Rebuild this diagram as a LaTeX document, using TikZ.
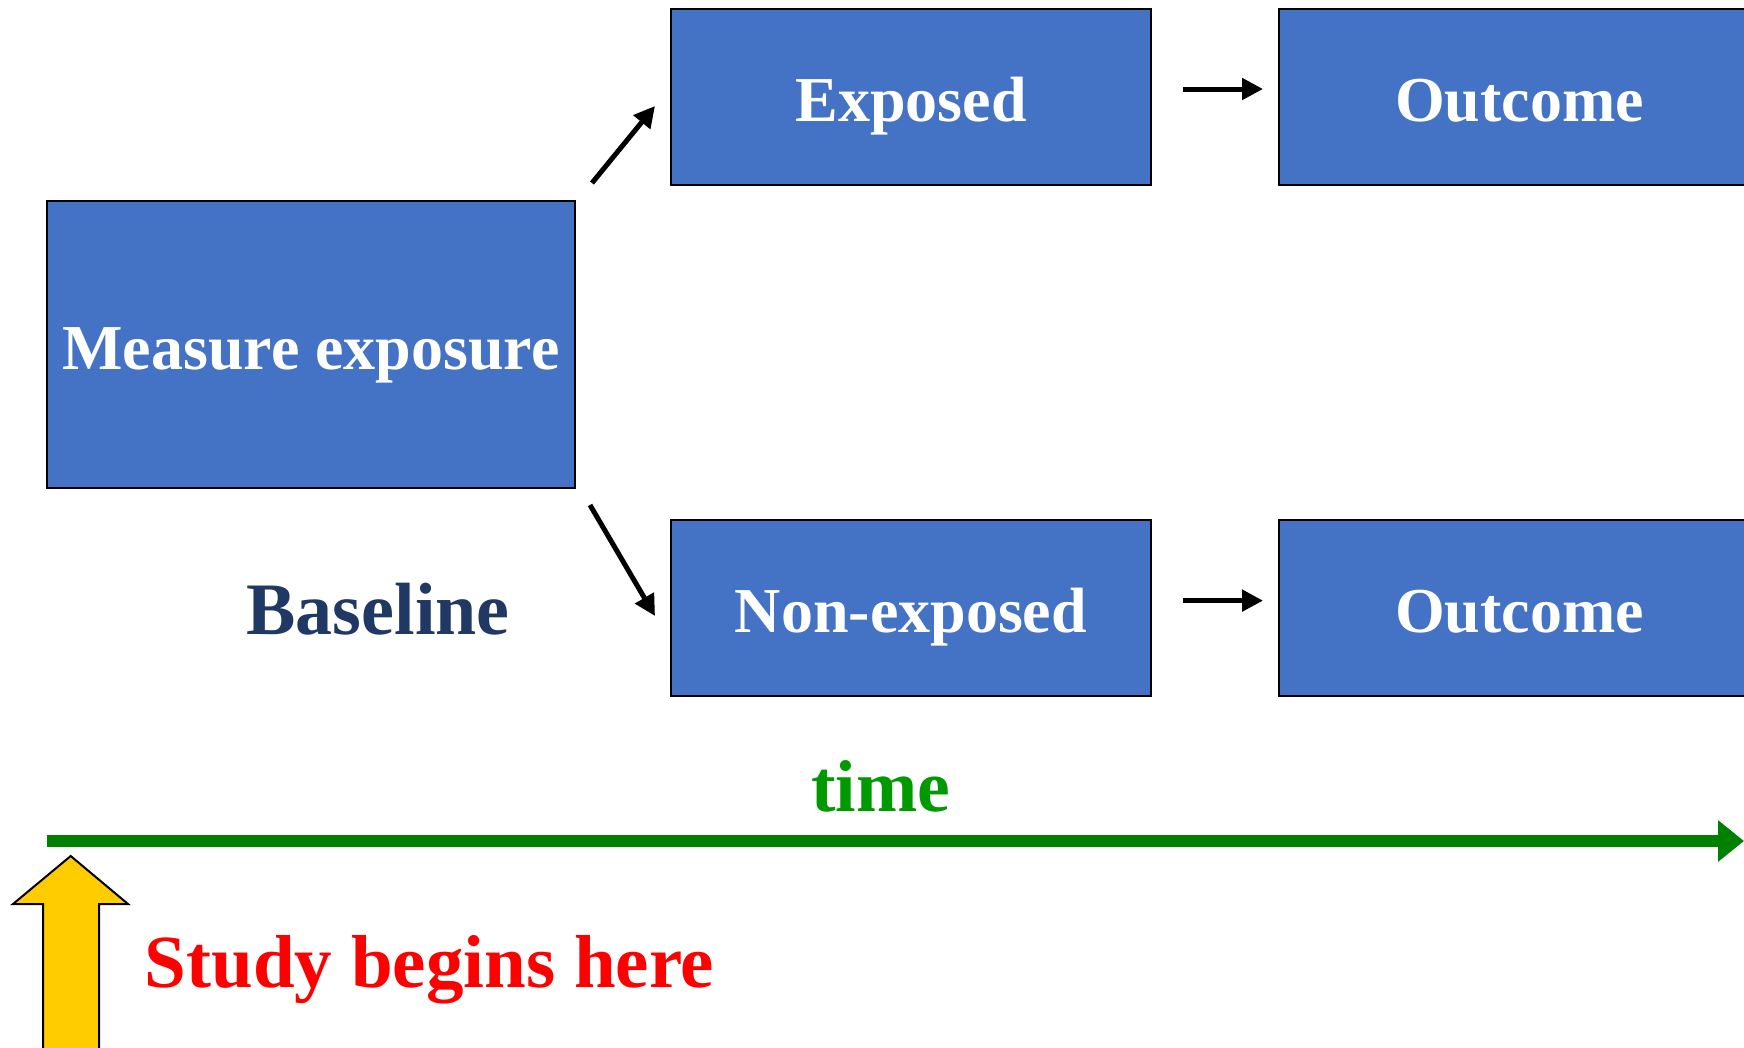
\documentclass[tikz,border=0pt]{standalone}
\usepackage{fontspec}
\setmainfont{Liberation Serif}
\usetikzlibrary{arrows.meta}
\definecolor{boxblue}{HTML}{4472C4}
\definecolor{navy}{HTML}{1F3864}
\definecolor{timegreen}{HTML}{009900}
\definecolor{linegreen}{HTML}{008000}
\definecolor{sunyellow}{HTML}{FFCC00}
\tikzset{
  bluebox/.style={draw=black, line width=2pt, fill=boxblue, text=white, inner sep=0pt,
    font=\fontsize{64}{70}\selectfont\bfseries, text height=49pt, text depth=0pt},
  conn/.style={line width=5pt, -{Triangle[length=21pt,width=21pt]}},
}
\begin{document}
\begin{tikzpicture}[x=1pt,y=-1pt]
\clip (0,0) rectangle (1744,1047);
\fill[white] (0,0) rectangle (1744,1047);
% boxes
\node[bluebox, minimum width=528pt, minimum height=287pt] (meas) at (311,344.5) {Measure exposure};
\node[bluebox, minimum width=480pt, minimum height=176pt] (expo) at (911,96.7) {Exposed};
\node[bluebox, minimum width=480pt, minimum height=176pt] (nonexpo) at (911,608.4) {Non-exposed};
\node[bluebox, minimum width=481pt, minimum height=176pt] (out1) at (1519.5,96.7) {Outcome};
\node[bluebox, minimum width=481pt, minimum height=176pt] (out2) at (1519.5,608.4) {Outcome};
% connector end points
\coordinate (a1s) at (592,183);
\coordinate (a1e) at (655,106);
\coordinate (a2s) at (590,505);
\coordinate (a2e) at (655,616);
\coordinate (h1s) at (1183,89);
\coordinate (h1e) at (1263,89);
\coordinate (h2s) at (1183,600.6);
\coordinate (h2e) at (1263,600.6);
\draw[conn] (a1s) -- (a1e);
\draw[conn] (a2s) -- (a2e);
\draw[conn] (h1s) -- (h1e);
\draw[conn] (h2s) -- (h2e);
% labels
\node[text=navy, font=\fontsize{74}{80}\selectfont\bfseries, anchor=base, inner sep=0pt] (base) at (378,634) {Baseline};
\node[text=timegreen, font=\fontsize{73.5}{80}\selectfont\bfseries, anchor=base, inner sep=0pt] (time) at (880.5,811.7) {time};
\node[text=red, font=\fontsize{75}{80}\selectfont\bfseries, anchor=base, inner sep=0pt] (study) at (429.5,987) {Study begins here};
% time axis
\coordinate (ts) at (46.7,841);
\coordinate (te) at (1744,841);
\draw[linegreen, line width=12pt, -{Triangle[length=26pt,width=40pt]}] (ts) -- (te);
% yellow arrow
\draw[fill=sunyellow, draw=black, line width=2pt, line join=miter]
  (70.7,856) -- (128,904) -- (99,904) -- (99,1060) -- (43,1060) -- (43,904) -- (13,904) -- cycle;
\end{tikzpicture}
\end{document}
